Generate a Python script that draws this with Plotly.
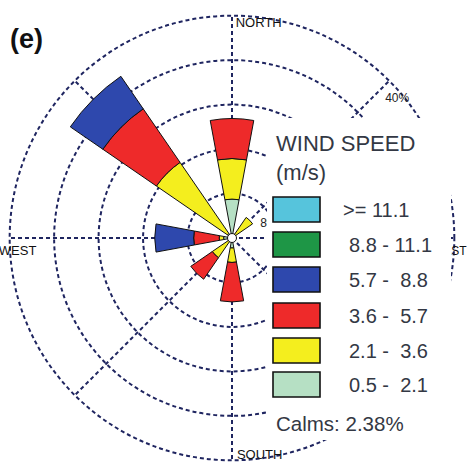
import plotly.graph_objects as go

# ---------------- data ----------------
directions = ["N", "NNE", "NE", "ENE", "E", "ESE", "SE", "SSE",
              "S", "SSW", "SW", "WSW", "W", "WNW", "NW", "NNW"]
dir_angles = [0, 22.5, 45, 67.5, 90, 112.5, 135, 157.5,
              180, 202.5, 225, 247.5, 270, 292.5, 315, 337.5]

speed_bins = ["0.5 - 2.1", "2.1 - 3.6", "3.6 - 5.7", "5.7 - 8.8", "8.8 - 11.1", ">= 11.1"]
#                 N    NNE  NE   ENE  E    ESE  SE   SSE  S    SSW  SW   WSW  W    WNW  NW    NNW
freq_05_21  = [7.0, 0.0, 0.8, 0.0, 0.0, 0.0, 0.0, 0.0, 1.8, 0.0, 0.8, 0.0, 1.5, 0.0, 1.0,  0.0]
freq_21_36  = [7.3, 0.0, 3.7, 0.0, 0.0, 0.0, 0.0, 0.0, 2.6, 0.0, 3.5, 0.0, 0.8, 0.0, 15.5, 0.0]
freq_36_57  = [7.2, 0.0, 0.0, 0.0, 0.0, 0.0, 0.0, 0.0, 7.1, 0.0, 4.7, 0.0, 4.6, 0.0, 11.7, 0.0]
freq_57_88  = [0.0, 0.0, 0.0, 0.0, 0.0, 0.0, 0.0, 0.0, 0.0, 0.0, 0.0, 0.0, 7.0, 0.0, 7.1,  0.0]
freq_88_111 = [0.0, 0.0, 0.0, 0.0, 0.0, 0.0, 0.0, 0.0, 0.0, 0.0, 0.0, 0.0, 0.0, 0.0, 0.0,  0.0]
freq_ge_111 = [0.0, 0.0, 0.0, 0.0, 0.0, 0.0, 0.0, 0.0, 0.0, 0.0, 0.0, 0.0, 0.0, 0.0, 0.0,  0.0]

bin_colors = ["#b6e0c4", "#f4ee1e", "#ee2a2a", "#2e48ad", "#1e9646", "#56c4dc"]

legend_title = ["WIND SPEED", "(m/s)"]
legend_labels = [">= 11.1", "8.8 - 11.1", "5.7 -\u00a0 8.8", "3.6 -\u00a0 5.7",
                 "2.1 -\u00a0 3.6", "0.5 -\u00a0 2.1"]
legend_colors = ["#56c4dc", "#1e9646", "#2e48ad", "#ee2a2a", "#f4ee1e", "#b6e0c4"]
calms_pct = 2.38

ring_ticks = [8, 16, 24, 32, 40]
ring_labels = ["8%", "40%"]
ring_label_r = [7.1, 38.8]
ring_label_theta = [69, 50]

compass_labels = ["NORTH", "EAST", "SOUTH", "WEST"]
compass_r = [38.6, 39.4, 39.1, 38.6]
compass_theta = [1.0, 92.0, 178.7, 268.0]
compass_size = [13, 12, 13, 13]
compass_pos = ["middle right", "bottom center", "middle right", "bottom center"]

panel_label = "(e)"

# ---------------- figure ----------------
W, H = 470, 462
GRID = "#1f2560"
FONT = "Arial, Liberation Sans, sans-serif"
TXT = "#333844"

def px(x):
    return x / W

def py(y):
    return 1 - y / H

fig = go.Figure()

series = [freq_05_21, freq_21_36, freq_36_57, freq_57_88, freq_88_111, freq_ge_111]
for name, vals, col in zip(speed_bins, series, bin_colors):
    fig.add_trace(go.Barpolar(
        r=[v if v > 0 else None for v in vals],
        theta=dir_angles,
        width=21,
        name=name,
        marker=dict(color=col, line=dict(color="#111111", width=1)),
        showlegend=False,
        hoverinfo="skip",
    ))

# calm circle at centre
fig.add_trace(go.Scatterpolar(
    r=[0], theta=[0], mode="markers",
    marker=dict(size=9, color="white", line=dict(color="#111111", width=1)),
    showlegend=False, hoverinfo="skip", cliponaxis=False,
))

# compass labels
fig.add_trace(go.Scatterpolar(
    r=compass_r, theta=compass_theta, mode="text", text=compass_labels,
    textposition=compass_pos,
    textfont=dict(family=FONT, size=compass_size, color="#111111"),
    showlegend=False, hoverinfo="skip", cliponaxis=False,
))

# ring labels
fig.add_trace(go.Scatterpolar(
    r=ring_label_r, theta=ring_label_theta, mode="text", text=ring_labels,
    textposition="middle center",
    textfont=dict(family=FONT, size=12, color="#222222"),
    showlegend=False, hoverinfo="skip", cliponaxis=False,
))

cx, cy, R = 232, 238, 224
fig.update_layout(
    width=W, height=H,
    margin=dict(l=0, r=0, t=0, b=0),
    paper_bgcolor="white",
    showlegend=False,
    polar=dict(
        domain=dict(x=[(cx - R) / W, (cx + R) / W], y=[(H - cy - R) / H, (H - cy + R) / H]),
        bgcolor="white",
        barmode="stack",
        radialaxis=dict(
            range=[0, 40.3], tickvals=ring_ticks, showticklabels=False, ticks="",
            showline=False, showgrid=True, gridcolor=GRID, gridwidth=1.6,
            griddash="4px,3px", layer="below traces",
        ),
        angularaxis=dict(
            rotation=90, direction="clockwise",
            tickvals=[0, 45, 90, 135, 180, 225, 270, 315],
            showticklabels=False, ticks="", showline=False,
            showgrid=True, gridcolor=GRID, gridwidth=1.6,
            griddash="4px,3px", layer="below traces",
        ),
    ),
)

# legend box (white panel over the rose)
shapes = [dict(type="rect", xref="paper", yref="paper",
               x0=px(267), x1=px(451), y0=py(440), y1=py(118),
               fillcolor="white", line=dict(width=0), layer="above")]
row_tops = [197, 232, 267, 303, 338, 372]
annotations = []
for i, (lab, col) in enumerate(zip(legend_labels, legend_colors)):
    t = row_tops[i]
    shapes.append(dict(type="rect", xref="paper", yref="paper",
                       x0=px(273), x1=px(320), y0=py(t + 25), y1=py(t),
                       fillcolor=col, line=dict(color="#111111", width=1.6),
                       layer="above"))
    annotations.append(dict(xref="paper", yref="paper",
                            x=px(341 if i == 0 else 347), y=py(t + 13),
                            xanchor="left", yanchor="middle", showarrow=False,
                            text=lab, font=dict(family=FONT, size=20, color=TXT)))

annotations.append(dict(xref="paper", yref="paper", x=px(274), y=py(143),
                        xanchor="left", yanchor="middle", showarrow=False,
                        text=legend_title[0], font=dict(family=FONT, size=22, color=TXT)))
annotations.append(dict(xref="paper", yref="paper", x=px(274), y=py(172),
                        xanchor="left", yanchor="middle", showarrow=False,
                        text=legend_title[1], font=dict(family=FONT, size=22, color=TXT)))
annotations.append(dict(xref="paper", yref="paper", x=px(274), y=py(423),
                        xanchor="left", yanchor="middle", showarrow=False,
                        text=f"Calms: {calms_pct:.2f}%", font=dict(family=FONT, size=20.5, color=TXT)))
annotations.append(dict(xref="paper", yref="paper", x=px(26), y=py(39),
                        xanchor="center", yanchor="middle", showarrow=False,
                        text=f"<b>{panel_label}</b>", font=dict(family=FONT, size=27, color="#111111")))

fig.update_layout(shapes=shapes, annotations=annotations)

fig.write_html("out.html", config={"displayModeBar": False},
               post_script="document.body.style.margin='0';")
